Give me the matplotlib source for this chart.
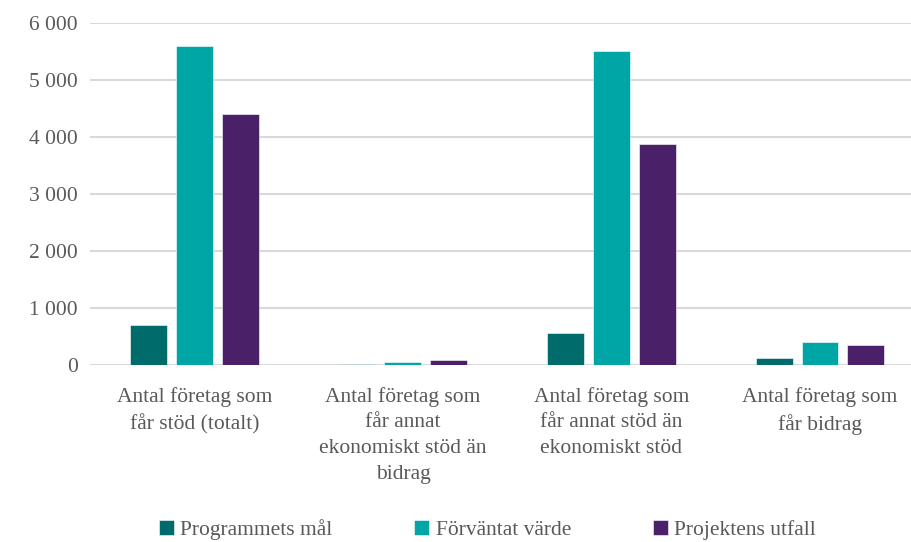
import matplotlib.pyplot as plt
import numpy as np
from matplotlib.ticker import FuncFormatter

# data
kategorier = ['Antal företag som\nfår stöd (totalt)',
              'Antal företag som\nfår annat\nekonomiskt stöd än\nbidrag',
              'Antal företag som\nfår annat stöd än\nekonomiskt stöd',
              'Antal företag som\nfår bidrag']
programmets_mal = [690, 5, 550, 120]
forvantat_varde = [5600, 45, 5500, 400]
projektens_utfall = [4400, 75, 3880, 350]

serier = ['Programmets mål', 'Förväntat värde', 'Projektens utfall']
farger = ['#006b6b', '#00a6a6', '#4a2068']

plt.rcParams['font.family'] = ['Liberation Serif', 'DejaVu Serif']

fig = plt.figure(figsize=(9.11, 5.42), dpi=100)
# plot area runs a bit past the right edge, as in the original
ax = fig.add_axes([0.099, 0.327, 0.9155, 0.631])

x = np.arange(len(kategorier))
w = 0.177
d = 0.22
for i, (vals, namn) in enumerate(zip([programmets_mal, forvantat_varde, projektens_utfall], serier)):
    ax.bar(x + (i - 1) * d, vals, w, color=farger[i], label=namn, zorder=3,
           edgecolor='white', linewidth=0.4)

ax.set_xlim(-0.5, len(kategorier) - 0.5)
ax.set_ylim(0, 6000)
ax.set_yticks(range(0, 6001, 1000))
ax.yaxis.set_major_formatter(FuncFormatter(lambda v, p: f'{int(v):,}'.replace(',', ' ')))
ax.set_xticks(x)
ax.set_xticklabels(kategorier, fontsize=15.5, color='#595959', linespacing=1.47)
ax.tick_params(axis='y', labelsize=15.5, labelcolor='#595959', length=0, pad=9)
ax.tick_params(axis='x', length=0, pad=16)
ax.grid(axis='y', color='#d9d9d9', linewidth=1.5, zorder=0)
for s in ax.spines.values():
    s.set_visible(False)

leg = fig.legend(loc='lower center', bbox_to_anchor=(0.535, -0.032), ncol=3, frameon=False,
                 fontsize=15.5, handlelength=0.7, handleheight=0.7, handletextpad=0.3,
                 columnspacing=3.8)
for t in leg.get_texts():
    t.set_color('#595959')

fig.savefig('out.png', dpi=100)
